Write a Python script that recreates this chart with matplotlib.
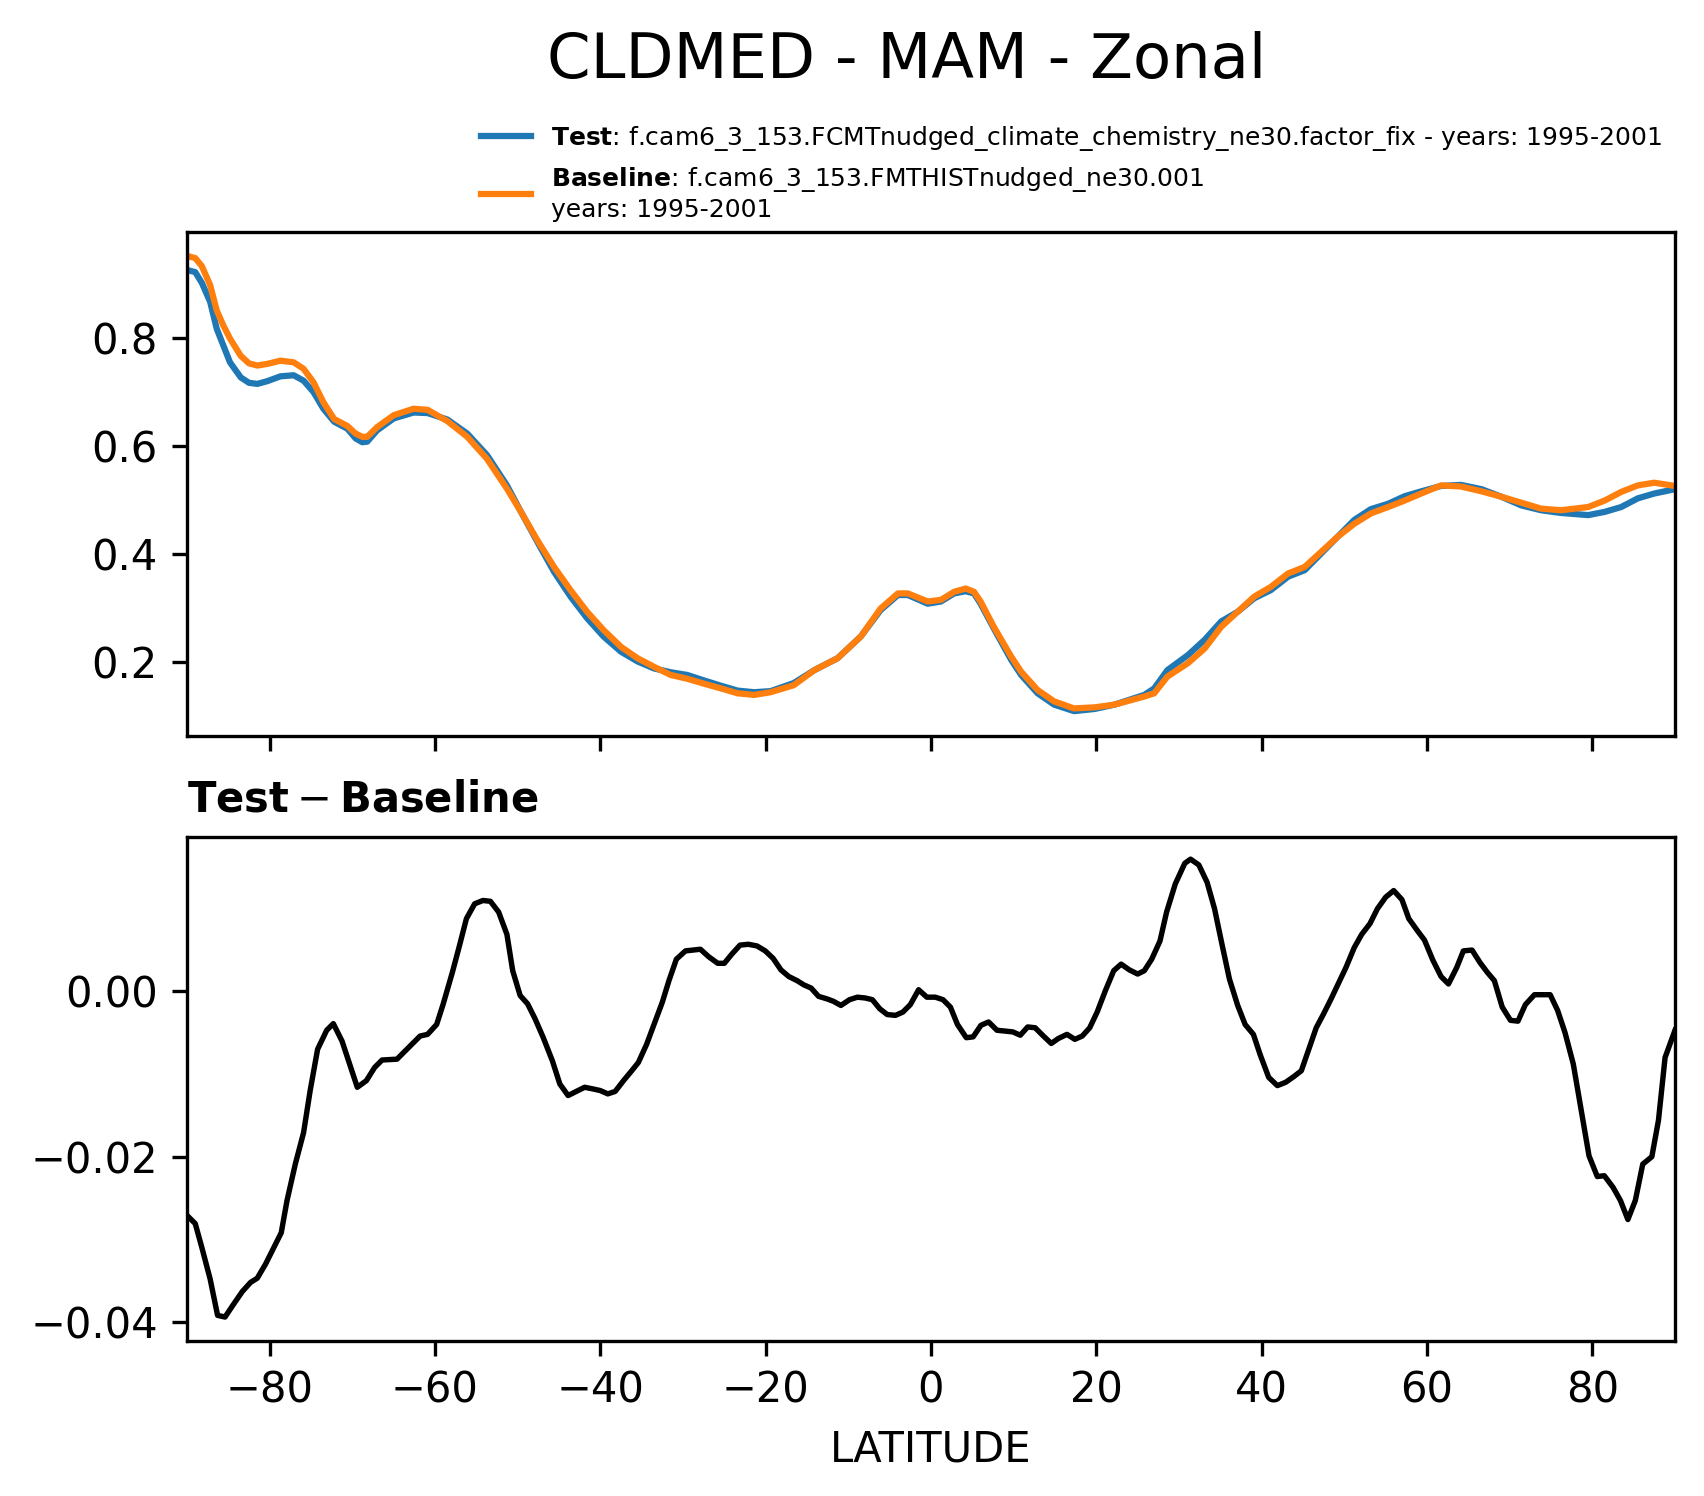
#!/usr/bin/env python
"""Zonal-mean CLDMED (MAM): test vs baseline, with the difference panel below."""
import matplotlib
matplotlib.use("Agg")
import matplotlib.pyplot as plt

# latitudes / zonal means (upper panel)
LAT_ZM = [-90.0, -89.0, -88.2, -87.2, -86.4, -85.6, -84.8, -83.5, -82.5, -81.5,
          -80.3, -78.7, -77.1, -75.9, -74.7, -73.5, -72.2, -70.6, -69.6, -68.8,
          -68.2, -67.0, -65.0, -62.6, -60.9, -58.5, -56.1, -53.7, -51.3, -49.6,
          -47.6, -45.6, -43.6, -41.6, -39.6, -37.5, -35.5, -33.5, -31.5, -29.5,
          -27.5, -25.4, -23.4, -21.4, -19.4, -16.6, -14.1, -11.3, -8.5, -6.1,
          -4.0, -2.8, -0.4, 1.2, 2.8, 4.2, 5.2, 6.0, 7.6, 9.7,
          10.9, 12.9, 14.9, 17.3, 19.8, 22.2, 25.8, 27.0, 28.6, 31.1,
          33.1, 35.1, 37.1, 39.1, 41.1, 43.2, 45.2, 47.2, 49.2, 51.2,
          53.2, 55.3, 57.3, 59.3, 61.7, 64.1, 66.6, 69.0, 71.4, 73.8,
          76.2, 79.5, 81.5, 83.5, 85.5, 87.5, 90.0]
TEST_ZM = [0.926, 0.922, 0.902, 0.867, 0.817, 0.786, 0.755, 0.727, 0.717, 0.715,
           0.720, 0.729, 0.731, 0.721, 0.700, 0.669, 0.645, 0.632, 0.614, 0.607,
           0.608, 0.629, 0.651, 0.662, 0.661, 0.649, 0.623, 0.583, 0.527, 0.478,
           0.422, 0.367, 0.321, 0.281, 0.247, 0.219, 0.201, 0.188, 0.181, 0.176,
           0.166, 0.156, 0.147, 0.144, 0.146, 0.161, 0.185, 0.207, 0.247, 0.296,
           0.324, 0.324, 0.308, 0.312, 0.327, 0.331, 0.327, 0.308, 0.262, 0.204,
           0.176, 0.142, 0.121, 0.109, 0.113, 0.121, 0.139, 0.151, 0.185, 0.213,
           0.241, 0.275, 0.293, 0.318, 0.333, 0.358, 0.370, 0.401, 0.432, 0.463,
           0.483, 0.493, 0.507, 0.516, 0.526, 0.528, 0.520, 0.506, 0.490, 0.481,
           0.476, 0.472, 0.478, 0.487, 0.503, 0.512, 0.520]
BASE_ZM = [0.952, 0.948, 0.933, 0.898, 0.851, 0.823, 0.799, 0.767, 0.753, 0.749,
           0.752, 0.758, 0.755, 0.743, 0.718, 0.681, 0.650, 0.637, 0.623, 0.617,
           0.617, 0.635, 0.657, 0.669, 0.667, 0.646, 0.617, 0.576, 0.521, 0.478,
           0.425, 0.376, 0.333, 0.293, 0.259, 0.228, 0.207, 0.191, 0.176, 0.169,
           0.160, 0.151, 0.142, 0.139, 0.144, 0.157, 0.185, 0.207, 0.247, 0.299,
           0.327, 0.327, 0.312, 0.315, 0.330, 0.336, 0.330, 0.312, 0.265, 0.210,
           0.182, 0.148, 0.127, 0.114, 0.116, 0.121, 0.136, 0.142, 0.173, 0.198,
           0.225, 0.265, 0.293, 0.321, 0.339, 0.364, 0.376, 0.404, 0.432, 0.456,
           0.475, 0.487, 0.499, 0.512, 0.527, 0.525, 0.516, 0.506, 0.495, 0.484,
           0.481, 0.487, 0.499, 0.515, 0.527, 0.532, 0.526]

# test - baseline (lower panel)
LAT_DIFF = [-90.0, -89.0, -88.2, -87.2, -86.3, -85.4, -84.4, -83.3, -82.3, -81.5,
            -80.5, -79.5, -78.6, -77.9, -76.9, -75.9, -75.1, -74.2, -73.1, -72.3,
            -71.25, -70.2, -69.4, -68.3, -67.3, -66.4, -64.6, -63.6, -62.6, -61.8,
            -60.9, -59.8, -59.0, -57.9, -57.1, -56.2, -55.2, -54.2, -53.3, -52.3,
            -51.3, -50.6, -49.7, -48.8, -47.9, -46.9, -45.8, -44.9, -43.9, -42.9,
            -41.9, -40.9, -40.0, -39.1, -38.2, -37.2, -36.2, -35.4, -34.4, -33.5,
            -32.5, -31.7, -30.8, -29.7, -27.9, -26.9, -25.8, -25.0, -24.1, -23.1,
            -22.1, -21.05, -20.05, -19.1, -18.15, -17.2, -16.2, -15.4, -14.5, -13.6,
            -12.6, -11.8, -10.9, -9.85, -8.9, -7.95, -7.1, -6.2, -5.3, -4.3,
            -3.4, -2.5, -1.5, -0.5, 0.52, 1.45, 2.35, 3.2, 4.27, 5.1,
            6.04, 6.97, 7.98, 8.99, 9.9, 10.8, 11.7, 12.6, 13.6, 14.55,
            15.4, 16.45, 17.4, 18.3, 19.2, 20.1, 21.1, 22.1, 23.0, 24.0,
            25.0, 25.8, 26.7, 27.7, 28.5, 29.55, 30.7, 31.4, 32.4, 33.4,
            34.3, 35.2, 36.1, 37.1, 38.0, 39.0, 39.8, 40.85, 41.9, 42.9,
            43.9, 44.8, 45.7, 46.6, 47.5, 48.4, 49.3, 50.2, 51.2, 52.1,
            53.1, 54.0, 55.0, 55.97, 56.97, 57.8, 58.8, 59.7, 60.7, 61.7,
            62.6, 63.6, 64.4, 65.45, 66.4, 67.3, 68.15, 69.1, 70.1, 71.0,
            71.9, 73.0, 73.9, 74.9, 75.8, 76.7, 77.7, 78.8, 79.6, 80.6,
            81.45, 82.5, 83.4, 84.3, 85.2, 86.1, 87.2, 88.0, 88.8, 90.0]
DIFF = [-0.0271, -0.0281, -0.0310, -0.0348, -0.0392, -0.0394, -0.0379, -0.0363, -0.0352, -0.0347,
        -0.0330, -0.0310, -0.0292, -0.0253, -0.0209, -0.0171, -0.0120, -0.0070, -0.0047, -0.0039,
        -0.0060, -0.0092, -0.0116, -0.0108, -0.0092, -0.0083, -0.0082, -0.0072, -0.0062, -0.0054,
        -0.0052, -0.0040, -0.0015, 0.0023, 0.0053, 0.0088, 0.0106, 0.0110, 0.0109, 0.0096,
        0.0069, 0.0025, -0.0005, -0.0015, -0.0033, -0.0056, -0.0084, -0.0112, -0.0126, -0.0121,
        -0.0116, -0.0118, -0.0120, -0.0124, -0.0121, -0.0108, -0.0096, -0.0086, -0.0064, -0.0040,
        -0.0013, 0.0013, 0.0039, 0.0049, 0.0051, 0.0042, 0.0034, 0.0034, 0.0045, 0.0056,
        0.0057, 0.0055, 0.0049, 0.0040, 0.0026, 0.0018, 0.0013, 0.0008, 0.0004, -0.0006,
        -0.0009, -0.0012, -0.0017, -0.0010, -0.0007, -0.0008, -0.0010, -0.0021, -0.0028, -0.0029,
        -0.0025, -0.0016, 0.0002, -0.0007, -0.0007, -0.0010, -0.0019, -0.0040, -0.0056, -0.0055,
        -0.0041, -0.0037, -0.0047, -0.0048, -0.0049, -0.0053, -0.0043, -0.0044, -0.0054, -0.0063,
        -0.0057, -0.0052, -0.0058, -0.0054, -0.0044, -0.0025, 0.0001, 0.0025, 0.0033, 0.0026,
        0.0021, 0.0025, 0.0039, 0.0061, 0.0096, 0.0130, 0.0155, 0.0160, 0.0153, 0.0132,
        0.0100, 0.0057, 0.0015, -0.0017, -0.0040, -0.0052, -0.0076, -0.0104, -0.0114, -0.0110,
        -0.0103, -0.0096, -0.0070, -0.0044, -0.0027, -0.0009, 0.0010, 0.0029, 0.0053, 0.0069,
        0.0082, 0.0100, 0.0114, 0.0122, 0.0111, 0.0088, 0.0074, 0.0062, 0.0038, 0.0018,
        0.0009, 0.0029, 0.0049, 0.0050, 0.0035, 0.0023, 0.0013, -0.0019, -0.0035, -0.0036,
        -0.0016, -0.0004, -0.0004, -0.0004, -0.0023, -0.0050, -0.0088, -0.0152, -0.0199, -0.0224,
        -0.0223, -0.0237, -0.0253, -0.0276, -0.0253, -0.0209, -0.0200, -0.0156, -0.0080, -0.0047]

TEST_LABEL = ("$\\bf{Test}$: f.cam6_3_153.FCMTnudged_climate_chemistry_ne30.factor_fix"
              " - years: 1995-2001")
BASE_LABEL = "$\\bf{Baseline}$: f.cam6_3_153.FMTHISTnudged_ne30.001\nyears: 1995-2001"


def main() -> None:
    fig = plt.figure(figsize=(1704 / 300, 1496 / 300), dpi=300)
    ax0 = fig.add_axes([0.10974, 0.50816, 0.87324, 0.33690])
    ax1 = fig.add_axes([0.10974, 0.10388, 0.87324, 0.33690], sharex=ax0)

    ax0.plot(LAT_ZM, TEST_ZM, color="#1f77b4", lw=1.5, label=TEST_LABEL)
    ax0.plot(LAT_ZM, BASE_ZM, color="#ff7f0e", lw=1.5, label=BASE_LABEL)
    ax0.set_ylim(0.0633, 0.9967)
    ax0.tick_params(labelbottom=False)
    # legend sits just above the top panel, flush right
    ax0.legend(loc="lower right", bbox_to_anchor=(1.006, 0.975), frameon=False, fontsize=6)

    ax1.plot(LAT_DIFF, DIFF, color="k", lw=1.3)
    ax1.set_ylim(-0.04225, 0.01873)
    ax1.set_xlim(-90, 90)
    ax1.set_title("$\\mathbf{Test} - \\mathbf{Baseline}$", loc="left", fontsize=10)
    ax1.set_xlabel("LATITUDE")

    fig.text(0.5323, 0.94766, "CLDMED - MAM - Zonal", ha="center", va="baseline", fontsize=15)
    fig.savefig("out.png", dpi=300)
    plt.close(fig)


if __name__ == "__main__":
    main()
